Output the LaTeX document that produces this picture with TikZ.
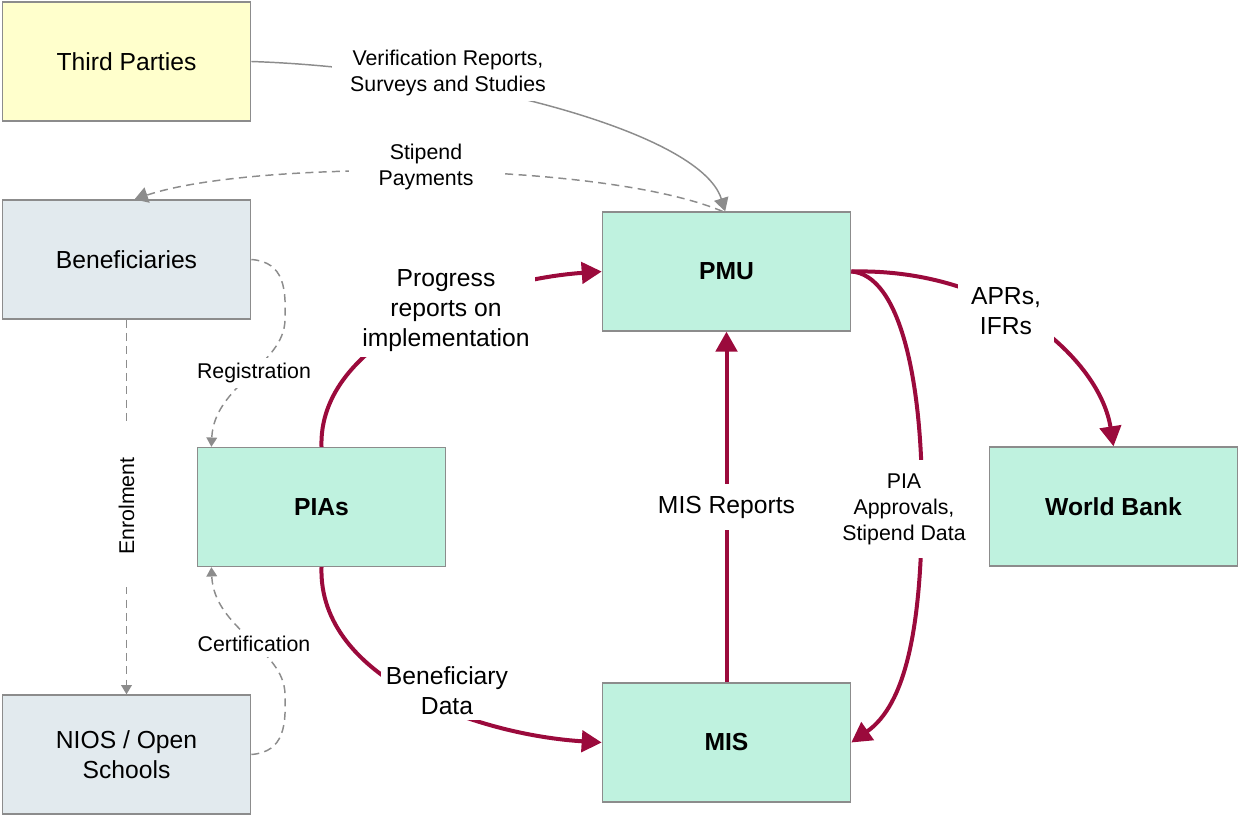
\documentclass[tikz,border=0pt]{standalone}
\usepackage{fontspec}
\setmainfont{Liberation Sans}
\usetikzlibrary{arrows.meta}
\definecolor{crim}{HTML}{9B0A3C}
\definecolor{lgray}{HTML}{8C8C8C}
\definecolor{mint}{HTML}{BFF2DF}
\definecolor{pyel}{HTML}{FFFFCC}
\definecolor{pblue}{HTML}{E2EAEE}
\tikzset{
  box/.style={draw=lgray, line width=1.2pt, minimum width=186pt, minimum height=89pt, inner sep=0pt, align=center, font=\fontsize{18.5}{22.5}\selectfont},
  mintbox/.style={box, fill=mint, font=\fontsize{18.5}{22.5}\selectfont\bfseries},
  redarr/.style={draw=crim, line width=3pt, -{Triangle[length=15pt,width=16pt]}},
  grayarr/.style={draw=lgray, line width=1.1pt, -{Triangle[length=10pt,width=11pt]}},
  graydash/.style={draw=lgray, line width=1.1pt, dash pattern=on 6pt off 4pt, -{Triangle[length=7pt,width=8pt]}},
  biglbl/.style={fill=white, align=center, inner sep=4pt, font=\fontsize{18.5}{22.5}\selectfont},
  smalllbl/.style={fill=white, align=center, inner sep=4pt, font=\fontsize{16}{19.5}\selectfont}
}
\begin{document}
\begin{tikzpicture}[x=0.75pt,y=-0.75pt]
\useasboundingbox (0,0) rectangle (1239,816);
% boxes
\node[box, fill=pyel] (tp) at (126.5,61.5) {Third Parties};
\node[box, fill=pblue] (ben) at (126.5,259.5) {Beneficiaries};
\node[box, fill=pblue] (nios) at (126.5,754.5) {NIOS / Open\\Schools};
\node[mintbox] (pias) at (321.5,507) {PIAs};
\node[mintbox] (pmu) at (726.5,271.5) {PMU};
\node[mintbox] (wb) at (1113.5,506.5) {World Bank};
\node[mintbox] (mis) at (726.5,742.5) {MIS};
% gray connectors
\draw[grayarr] (tp.east) .. controls (450,68) and (700,130) .. ([xshift=-1pt]pmu.north);
\draw[graydash, -{Triangle[length=10pt,width=12pt]}] ([xshift=-3pt]pmu.north) .. controls (600,160) and (250,160) .. ([xshift=6pt]ben.north);
\draw[graydash] (ben.east) .. controls (285,262) and (286,290) .. (285,320) .. controls (284,365) and (214,385) .. ([xshift=11pt]pias.north west);
\draw[graydash] (nios.east) .. controls (285,752) and (286,724) .. (285,694) .. controls (284,649) and (214,629) .. ([xshift=11pt]pias.south west);
\draw[graydash] (ben.south) -- (nios.north);
% red connectors
\draw[redarr] (pias.north) .. controls (318,340) and (480,280) .. (pmu.west);
\draw[redarr] (pias.south) .. controls (318,680) and (480,735) .. (mis.west);
\draw[redarr] (mis.north) -- (pmu.south);
\draw[redarr] (pmu.east) .. controls (1000,268) and (1100,360) .. (wb.north);
\draw[redarr] (pmu.east) .. controls (900,275) and (922,380) .. (922,500) .. controls (922,630) and (905,705) .. (mis.east);
% labels
\node[smalllbl, inner xsep=14pt] (lver) at (448,73) {Verification Reports,\\Surveys and Studies};
\node[smalllbl, inner xsep=22pt] (lsti) at (426,167) {Stipend\\Payments};
\node[smalllbl] (lreg) at (254,373) {Registration};
\node[smalllbl] (lcer) at (254,644) {Certification};
\node[smalllbl, rotate=90, inner xsep=24pt] (lenr) at (126.5,506) {Enrolment};
\node[biglbl] (lpro) at (446,311) {Progress\\reports on\\implementation};
\node[biglbl] (lben) at (447,691) {Beneficiary\\Data};
\node[biglbl, inner ysep=9pt] (lmis) at (726.5,507) {MIS Reports};
\node[biglbl, inner sep=10pt] (lapr) at (1006,311) {APRs,\\IFRs};
\node[smalllbl, inner ysep=10pt] (lpia) at (904,509) {PIA\\Approvals,\\Stipend Data};
\end{tikzpicture}
\end{document}
